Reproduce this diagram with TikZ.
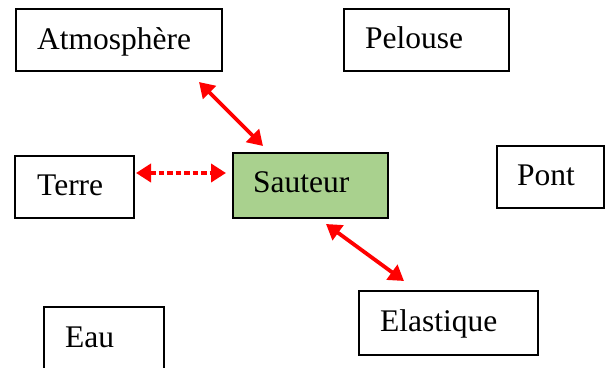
\documentclass[tikz,border=0pt]{standalone}
\usepackage{fontspec}
\setmainfont{Liberation Serif}
\usetikzlibrary{arrows.meta}
\definecolor{sgreen}{RGB}{169,209,142}
\begin{document}
\begin{tikzpicture}[x=1pt,y=-1pt,
  box/.style={draw=black,line width=2pt,fill=white,inner sep=0pt,anchor=north west},
  lbl/.style={anchor=base west,inner sep=0pt,font=\fontsize{31.5}{38}\selectfont},
  rarrow/.style={draw=red,line width=3.8pt,{Triangle[length=15pt,width=18pt]}-{Triangle[length=15pt,width=18pt]}},
  darrow/.style={rarrow,dash pattern=on 5.5pt off 3pt}]
\useasboundingbox (0,0) rectangle (613,367);
\node[box,minimum width=206pt,minimum height=62pt] (atm) at (15,8) {};
\node[lbl] (tatm) at (37,49) {Atmosphère};
\node[box,minimum width=165pt,minimum height=62pt] (pel) at (343,8) {};
\node[lbl] (tpel) at (365,48) {Pelouse};
\node[box,minimum width=119pt,minimum height=62pt] (ter) at (14,155) {};
\node[lbl] (tter) at (37,195) {Terre};
\node[box,fill=sgreen,minimum width=155pt,minimum height=65pt] (sau) at (232,152) {};
\node[lbl] (tsau) at (253,192) {Sauteur};
\node[box,minimum width=107pt,minimum height=62pt] (pon) at (496,145) {};
\node[lbl] (tpon) at (517,185) {Pont};
\node[box,minimum width=179pt,minimum height=64pt] (ela) at (358,290) {};
\node[lbl] (tela) at (380,331) {Elastique};
\node[box,minimum width=120pt,minimum height=70pt] (eau) at (43,306) {};
\node[lbl] (teau) at (65,347) {Eau};
\coordinate (a1) at (199,82);
\coordinate (a2) at (263,146);
\coordinate (t1) at (136,173);
\coordinate (t2) at (226,173);
\coordinate (e1) at (326,224);
\coordinate (e2) at (404,281);
\draw[rarrow] (a1) -- (a2);
\draw[darrow] (t1) -- (t2);
\draw[rarrow] (e1) -- (e2);
\end{tikzpicture}
\end{document}
